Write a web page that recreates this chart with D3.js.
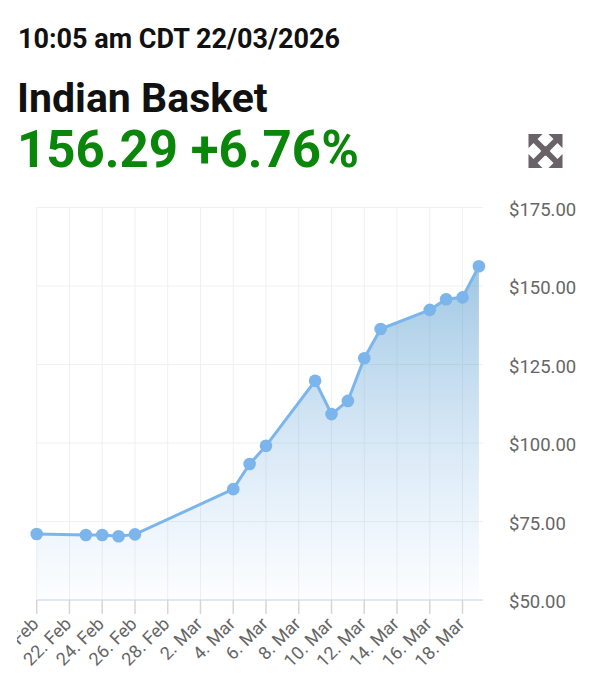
<!DOCTYPE html>
<html>
<head>
  <meta charset="utf-8">
  <title>Indian Basket</title>
  <style>
    body {
      margin: 0;
      padding: 0;
      background: white;
      font-family: Roboto, "Noto Sans", sans-serif;
    }
    #chart {
      width: 600px;
      height: 675px;
    }
    .grid line {
      stroke: #f0f0f0;
      stroke-width: 1;
    }
    .price-line {
      fill: none;
      stroke: #7cb5ec;
      stroke-width: 3;
    }
    .dot {
      fill: #7cb5ec;
    }
    .xlab, .ylab {
      fill: #666;
    }
  </style>
</head>
<body>
  <div id="chart"></div>

  <script src="https://d3js.org/d3.v7.min.js"></script>
  <script>
    // price data
    var dates = ["2026-02-20", "2026-02-23", "2026-02-24", "2026-02-25", "2026-02-26",
      "2026-03-04", "2026-03-05", "2026-03-06", "2026-03-09", "2026-03-10",
      "2026-03-11", "2026-03-12", "2026-03-13", "2026-03-16", "2026-03-17",
      "2026-03-18", "2026-03-19"]
    var prices = [71.0, 70.7, 70.7, 70.3, 70.9,
      85.3, 93.3, 99.1, 119.8, 109.2,
      113.4, 127.0, 136.3, 142.4, 145.8,
      146.39, 156.29]
    var yTicks = [50, 75, 100, 125, 150, 175]

    var stamp = "10:05 am CDT 22/03/2026"
    var title = "Indian Basket"
    var quote = "156.29 +6.76%"

    var parse = d3.timeParse("%Y-%m-%d")
    var points = dates.map(function(d, i) {
      return { date: parse(d), value: prices[i] }
    })

    var width = 600,
      height = 675

    var svg = d3.select("#chart")
      .append("svg")
      .attr("width", width)
      .attr("height", height)

    // header texts
    svg.append("text")
      .attr("x", 18).attr("y", 48)
      .style("font-size", "27px").style("font-weight", "bold").style("fill", "#111")
      .text(stamp)

    svg.append("text")
      .attr("x", 17).attr("y", 112)
      .style("font-size", "41px").style("font-weight", "bold").style("fill", "#111")
      .text(title)

    svg.append("text")
      .attr("x", 17).attr("y", 167)
      .style("font-size", "51px").style("font-weight", "bold").style("fill", "#0a860a")
      .text(quote)

    // expand icon (four arrows pointing out)
    var icon = svg.append("g")
      .attr("transform", "translate(545.5,151)")
      .style("fill", "#696266")
    var arrow = "M-17,-17 L-3,-17 L-8,-12 L0,-4 L-4,0 L-12,-8 L-17,-3 Z"
    ;[0, 90, 180, 270].forEach(function(a) {
      icon.append("path").attr("d", arrow).attr("transform", "rotate(" + a + ")")
    })
    icon.append("rect").attr("x", -3.5).attr("y", -3.5).attr("width", 7).attr("height", 7)
      .attr("transform", "rotate(45)")

    // plot area
    var plotLeft = 36.7,
      plotRight = 483,
      plotTop = 207.5,
      plotBottom = 600

    var x = d3.scaleTime()
      .domain([parse("2026-02-20"), d3.timeHour.offset(parse("2026-03-19"), 6)])
      .range([plotLeft, plotRight])

    var y = d3.scaleLinear()
      .domain([50, 175])
      .range([plotBottom, plotTop])

    var xTicks = d3.timeDay.range(parse("2026-02-20"), parse("2026-03-19"), 2)

    var defs = svg.append("defs")
    defs.append("clipPath").attr("id", "clip")
      .append("rect").attr("x", 17).attr("y", 0).attr("width", width - 17).attr("height", height)

    var chart = svg.append("g").attr("clip-path", "url(#clip)")

    // gridlines
    var grid = chart.append("g").attr("class", "grid")
    grid.selectAll(".v").data(xTicks).enter().append("line")
      .attr("x1", function(d) { return x(d) })
      .attr("x2", function(d) { return x(d) })
      .attr("y1", plotTop).attr("y2", plotBottom)
    grid.selectAll(".h").data(yTicks).enter().append("line")
      .attr("x1", plotLeft).attr("x2", plotRight)
      .attr("y1", function(d) { return y(d) })
      .attr("y2", function(d) { return y(d) })

    // gradient for the area
    var grad = defs.append("linearGradient")
      .attr("id", "fillGrad")
      .attr("gradientUnits", "userSpaceOnUse")
      .attr("x1", 0).attr("x2", 0)
      .attr("y1", y(d3.max(prices))).attr("y2", plotBottom)
    grad.append("stop").attr("offset", 0).attr("stop-color", "#3f8fc4").attr("stop-opacity", 0.5)
    grad.append("stop").attr("offset", 1).attr("stop-color", "#7cb5ec").attr("stop-opacity", 0.02)

    var area = d3.area()
      .x(function(d) { return x(d.date) })
      .y0(plotBottom)
      .y1(function(d) { return y(d.value) })

    var line = d3.line()
      .x(function(d) { return x(d.date) })
      .y(function(d) { return y(d.value) })

    chart.append("path").datum(points)
      .attr("d", area)
      .style("fill", "url(#fillGrad)")

    // x axis line and ticks
    chart.append("line")
      .attr("x1", plotLeft).attr("x2", plotRight)
      .attr("y1", plotBottom).attr("y2", plotBottom)
      .style("stroke", "#ccd6eb")
    chart.selectAll(".tick").data(xTicks).enter().append("line")
      .attr("x1", function(d) { return x(d) })
      .attr("x2", function(d) { return x(d) })
      .attr("y1", plotBottom).attr("y2", plotBottom + 14)
      .style("stroke", "#d6d6d6").style("stroke-width", 1.5)

    chart.append("path").datum(points)
      .attr("class", "price-line")
      .attr("d", line)

    chart.selectAll(".dot").data(points).enter().append("circle")
      .attr("class", "dot")
      .attr("cx", function(d) { return x(d.date) })
      .attr("cy", function(d) { return y(d.value) })
      .attr("r", 6.3)

    // x labels, rotated
    var fmt = d3.timeFormat("%-d. %b")
    chart.selectAll(".xlab").data(xTicks).enter().append("text")
      .attr("class", "xlab")
      .attr("transform", function(d) {
        return "translate(" + (x(d) + 3) + "," + (plotBottom + 25) + ") rotate(-45)"
      })
      .attr("text-anchor", "end")
      .style("font-size", "18px")
      .text(fmt)

    // y labels on the right
    svg.selectAll(".ylab").data(yTicks).enter().append("text")
      .attr("class", "ylab")
      .attr("x", 509)
      .attr("y", function(d) { return y(d) + 8 })
      .style("font-size", "18.5px")
      .text(function(d) { return "$" + d.toFixed(2) })
  </script>
</body>
</html>
